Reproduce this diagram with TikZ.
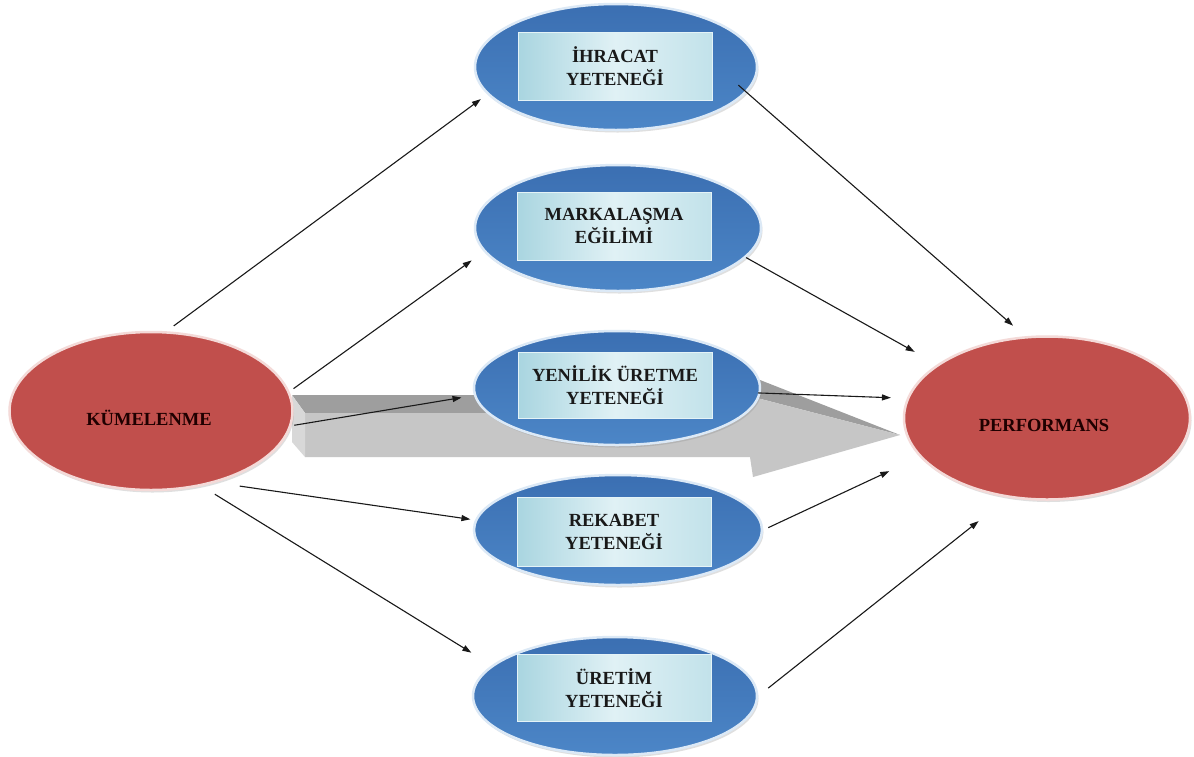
\documentclass[tikz,border=0pt]{standalone}
\usepackage{fontspec}
\setmainfont{Liberation Serif}
\usetikzlibrary{arrows.meta,shapes.geometric,shadows}

\definecolor{blueTop}{HTML}{3B6FB2}
\definecolor{blueBot}{HTML}{4C86C7}
\definecolor{blueRim}{HTML}{DCE9F6}
\definecolor{hubFill}{HTML}{C14F4C}
\definecolor{hubRim}{HTML}{F4DAD8}
\definecolor{panelL}{HTML}{A9D5E0}
\definecolor{panelM}{HTML}{E0F1F5}
\definecolor{panelR}{HTML}{C2E2EA}
\definecolor{panelRim}{HTML}{E4F3F7}
\definecolor{slabTop}{HTML}{9E9E9E}
\definecolor{slabFront}{HTML}{C6C6C6}
\definecolor{slabSide}{HTML}{D8D8D8}

\tikzset{
  bubble/.style={ellipse, inner sep=0pt, draw=blueRim, line width=2.5pt,
    top color=blueTop, bottom color=blueBot,
    drop shadow={shadow xshift=1.5pt, shadow yshift=-2.5pt, opacity=0.25}},
  hub/.style={ellipse, inner sep=0pt, draw=hubRim, line width=2.5pt, fill=hubFill,
    drop shadow={shadow xshift=1.5pt, shadow yshift=-2.5pt, opacity=0.25}},
  panel/.style={rectangle, inner sep=0pt, draw=panelRim, line width=1pt,
    left color=panelL, right color=panelR, middle color=panelM,
    minimum width=194pt, align=center, text=black!90,
    font=\fontsize{18.5}{23}\selectfont\bfseries},
  hubtext/.style={inner sep=0pt, text=black!88!red,
    font=\fontsize{18.5}{23}\selectfont\bfseries},
  link/.style={-{Triangle[length=9pt,width=6pt]}, line width=1.1pt, black!90}
}

\begin{document}
\begin{tikzpicture}[x=1pt,y=-1pt]
\useasboundingbox (0,0) rectangle (1194,756);
\fill[white] (0,0) rectangle (1194,756);

% broad grey 3-D arrow in the background
\fill[slabTop] (292,395) -- (760,395) -- (760,380) -- (900,435) -- (757,398)
  -- (745,413) -- (305,413) -- cycle;
\fill[slabFront] (305,413) -- (745,413) -- (757,398) -- (900,435) -- (753,477)
  -- (750,457) -- (305,457) -- cycle;
\fill[slabSide] (292,395) -- (305,413) -- (305,457) -- (292,442) -- cycle;

% source and outcome
\node[hub, minimum width=283pt, minimum height=158pt] (kum) at (151,411) {};
\node[hubtext] (kumL) at (149,418) {KÜMELENME};
\node[hub, minimum width=286pt, minimum height=163pt] (perf) at (1047,418) {};
\node[hubtext] (perfL) at (1044,425) {PERFORMANS};

% mediating capabilities
\node[bubble, minimum width=282pt, minimum height=126pt] (ihr) at (616,67) {};
\node[panel, minimum height=68pt] (ihrT) at (615,66) {İHRACAT\\YETENEĞİ};

\node[bubble, minimum width=286pt, minimum height=126pt] (mark) at (618,228) {};
\node[panel, minimum height=68pt] (markT) at (614,226) {MARKALAŞMA\\EĞİLİMİ};

\node[bubble, minimum width=286pt, minimum height=114pt] (yen) at (617,388) {};
\node[panel, minimum height=66pt] (yenT) at (615,385) {YENİLİK ÜRETME\\YETENEĞİ};

\node[bubble, minimum width=288pt, minimum height=110pt] (rek) at (618,530) {};
\node[panel, minimum height=69pt] (rekT) at (614,532) {REKABET\\YETENEĞİ};

\node[bubble, minimum width=284pt, minimum height=118pt] (ure) at (615,696) {};
\node[panel, minimum height=67pt] (ureT) at (614,688) {ÜRETİM\\YETENEĞİ};

% links from the cluster to each capability
\draw[link, shorten <=9pt, shorten >=8pt] (kum.79) -- (ihr.192.5);
\draw[link, shorten <=5pt, shorten >=15pt] (kum.8.4) -- (mark.190);
\draw[link, shorten <=3pt, shorten >=12.6pt] (kum.354) -- (yen.183.2);
\draw[link, shorten <=24.5pt, shorten >=4.7pt] (kum.312.7) -- (rek.176.7);
\draw[link, shorten <=15.5pt, shorten >=24pt] (kum.304.6) -- (ure.166.7);

% links from each capability to performance
\draw[link, shorten <=-11pt, shorten >=16pt] (ihr.349) -- (perf.105.3);
\draw[link, shorten >=25.7pt] (mark.347) -- (perf.154.4);
\draw[link, shorten <=-2.5pt, shorten >=16pt] (yen.358.3) -- (perf.172.1);
\draw[link, shorten <=5.5pt, shorten >=33.6pt] (rek.0) -- (perf.197.9);
\draw[link, shorten <=12.7pt, shorten >=37.7pt] (ure.0) -- (perf.244.6);
\end{tikzpicture}
\end{document}
